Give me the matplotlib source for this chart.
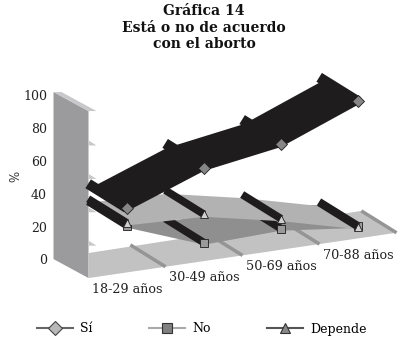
import matplotlib.pyplot as plt
from matplotlib.lines import Line2D
from matplotlib.patches import Polygon

categories = ['18-29 años', '30-49 años', '50-69 años', '70-88 años']
si_values = [38.6, 56, 63.5, 82]
no_values = [28, 11, 12.6, 7.5]
depende_values = [29.6, 28, 18.6, 7]
value_ticks = [0, 20, 40, 60, 80, 100]

SERIF = 'DejaVu Serif'
BLACK = '#1f1c1d'
TEXT = '#222222'


def project(i, value=0.0, depth=0.0):
    """
    Oblique projection: category position, value and depth to image pixels.
    """
    x = 127 + 77 * i - 37 * depth
    y = 272.4 - 11.33 * i - 1.67 * value - 23 * depth
    return x, y


def poly(ax, points, color, zorder):
    ax.add_patch(Polygon(points, closed=True, facecolor=color, edgecolor='none', zorder=zorder))


def ribbon(ax, values, color, zorder, marker, marker_color, sag, bar_width):
    """
    One series as a flat band going back in depth, with a dark bar on each point.
    """
    n = len(values)
    front = [project(i, values[i] - sag) for i in range(n)]
    back = [project(i, values[i] - sag, 1) for i in range(n)]
    poly(ax, front + back[::-1], color, zorder)
    points = [project(i, values[i]) for i in range(n)]
    ends = [project(i, values[i], 1.05) for i in range(n)]
    for f, b in zip(points, ends):
        ax.plot([f[0], b[0]], [f[1], b[1]], color=BLACK, lw=bar_width, solid_capstyle='butt', zorder=zorder + 0.1)
    ax.plot([p[0] for p in points], [p[1] for p in points], linestyle='none', marker=marker,
            markersize=6, markerfacecolor=marker_color, markeredgecolor=BLACK,
            markeredgewidth=0.6, zorder=zorder + 0.2)


fig = plt.figure(figsize=(4.15, 3.48), dpi=100)
ax = fig.add_axes([0, 0, 1, 1])
ax.set_xlim(0, 415)
ax.set_ylim(348, 0)
ax.axis('off')

# Wall and floor, the corner sits half a category left of the first point
corner = -0.5
wall_bottom = project(corner, 0)
wall_top = project(corner, 100)
wall_bottom_back = (wall_bottom[0] - 35, wall_bottom[1] - 19)
wall_top_back = (wall_top[0] - 35, wall_top[1] - 19)
poly(ax, [wall_top_back, wall_top, wall_bottom, wall_bottom_back], '#9b9b9d', 1)
poly(ax, [wall_top_back, (wall_top_back[0] + 8, wall_top_back[1]), (wall_top[0] + 8, wall_top[1]), wall_top],
     '#c8c8ca', 1)

floor_right = len(categories) - 0.5
poly(ax, [wall_bottom, project(floor_right, 0), project(floor_right, 0, 0.95), project(corner, 15)],
     '#c2c2c2', 1)

# Grid marks left on the wall and on the floor
for v in value_ticks[1:-1]:
    x, y = project(corner, v)
    poly(ax, [(x, y - 4), (x + 8, y + 1), (x, y + 1)], '#c8c8ca', 1.5)

for i in range(len(categories)):
    start = project(i + 0.5, 0)
    end = project(i + 0.5, 0, 0.95)
    ax.plot([start[0], end[0]], [start[1], end[1]], color='#959595', lw=2.5, solid_capstyle='butt', zorder=1.5)

ribbon(ax, no_values, '#8f8f8f', 2, 's', '#9a9a9a', 1.2, 5.5)
ribbon(ax, depende_values, '#b2b2b2', 3, '^', '#d0d0d0', 1.5, 5.5)
ribbon(ax, si_values, BLACK, 4, 'D', '#868686', 2, 7.5)

for v in value_ticks:
    ax.text(47, 261 - 1.64 * v, str(v), ha='right', va='center', family=SERIF, fontsize=9, color=TEXT)
ax.text(16, 176, '%', rotation=90, ha='center', va='center', family=SERIF, fontsize=8.5, color=TEXT)

for i, label in enumerate(categories):
    x, y = project(i, -10)
    ax.text(x, y, label, ha='center', va='center', family=SERIF, fontsize=9.2, color=TEXT)

for y, line in zip([11, 28, 44], ['Gráfica 14', 'Está o no de acuerdo', 'con el aborto']):
    ax.text(204, y, line, ha='center', va='center', family=SERIF, fontweight='bold', fontsize=10, color='#111111')

handles = [
    Line2D([], [], color='#666666', lw=1.5, marker='D', markersize=7, markerfacecolor='#b8b8b8',
           markeredgecolor='#444444', markeredgewidth=0.8),
    Line2D([], [], color='#aaaaaa', lw=1.5, marker='s', markersize=7, markerfacecolor='#808080',
           markeredgecolor='#333333', markeredgewidth=0.8),
    Line2D([], [], color='#555555', lw=1.5, marker='^', markersize=7, markerfacecolor='#888888',
           markeredgecolor='#333333', markeredgewidth=0.8),
]
ax.legend(handles, ['Sí', 'No', 'Depende'], ncol=3, frameon=False, loc='center left',
          bbox_to_anchor=(37 / 415, 1 - 329 / 348), borderaxespad=0, borderpad=0,
          handlelength=2.9, handletextpad=0.55, columnspacing=4.5,
          prop={'family': SERIF, 'size': 9})

fig.savefig('out.png', dpi=100)
